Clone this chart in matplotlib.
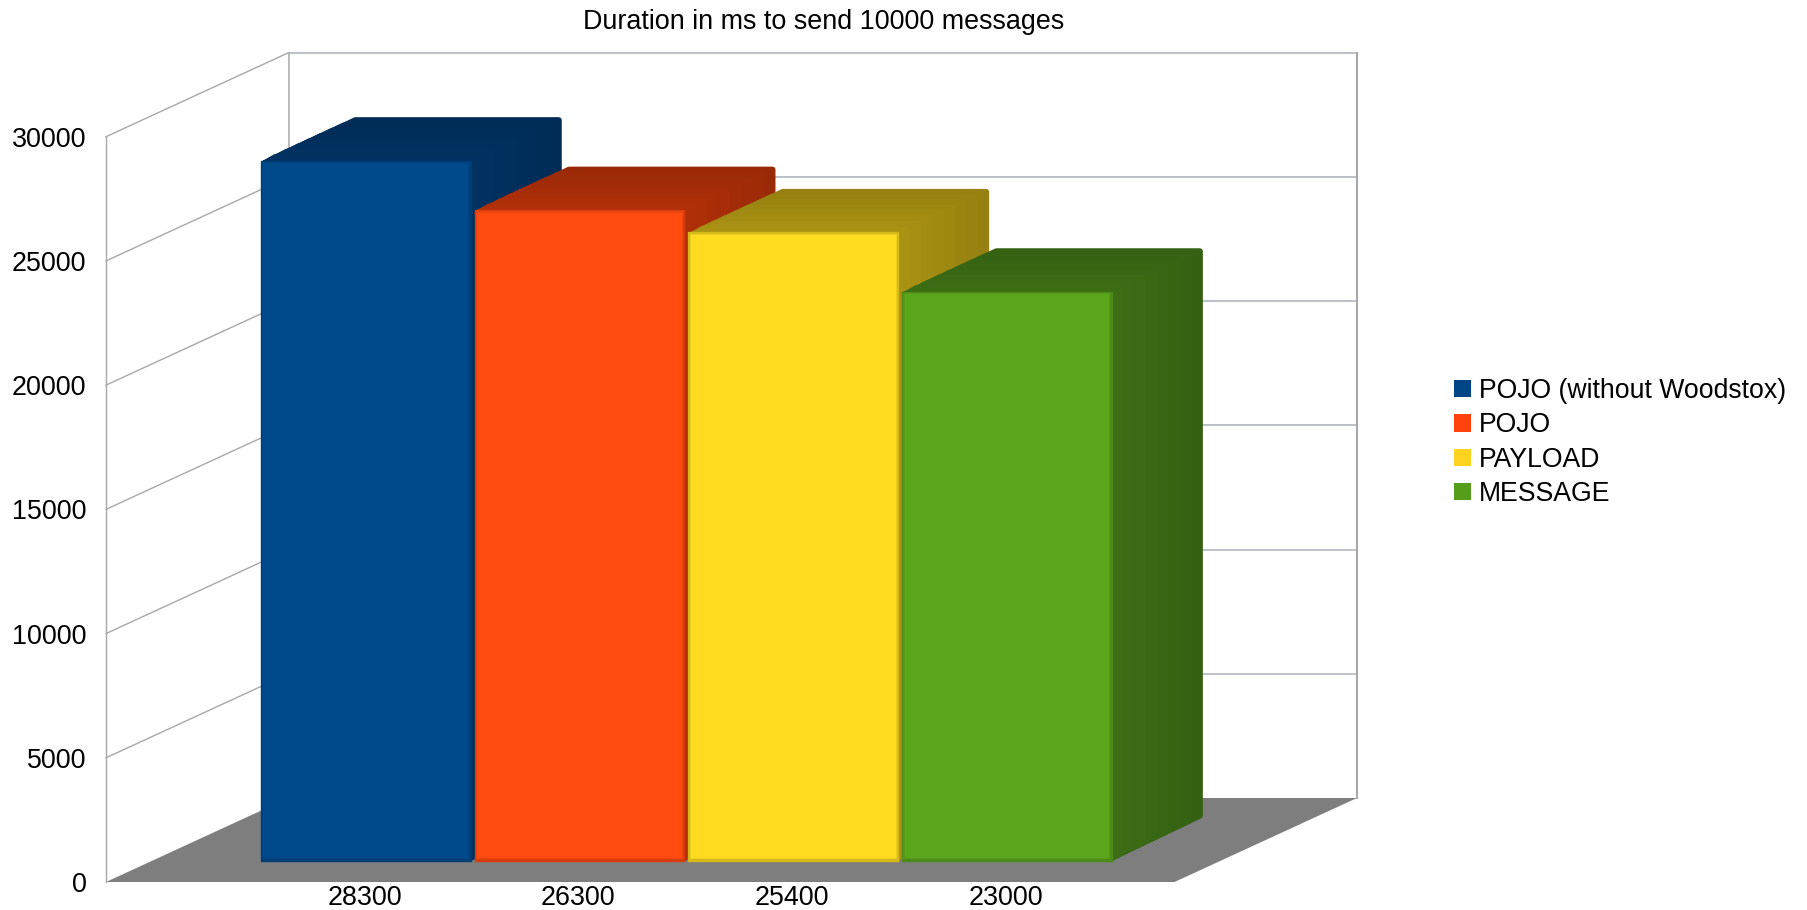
#Goal: Duration to send 10000 messages as LibreOffice style "3D" bars
import matplotlib
matplotlib.use('Agg')
import matplotlib.pyplot as plt
from matplotlib.patches import Polygon, Patch
import numpy as np

plt.rcParams['font.family'] = ['Liberation Sans', 'DejaVu Sans']
plt.rcParams.update({'font.size': 19.4})

#data
series = ['POJO (without Woodstox)', 'POJO', 'PAYLOAD', 'MESSAGE']
durations = [28300, 26300, 25400, 23000]
value_ticks = [0, 5000, 10000, 15000, 20000, 25000, 30000]

#colors
front_colors = ['#004a8c', '#ff4a10', '#ffdc20', '#5ca61c']
side_colors = ['#002f5c', '#a62d08', '#a08a12', '#396814']
legend_colors = ['#004586', '#ff420e', '#ffd320', '#579d1c']
wall_color = '#a8a8a8'
grid_color = '#a9b0b8'
floor_color = '#7e7e7e'

W, H = 1807, 910
x0, x1 = 106, 1174.5 #pixel box of the front plane
y0, y1 = 882, 136.7

#oblique depth: one unit of depth moves this far in data units
ymax = 30000
xmax = 5
depth_x = 182.5 / ((x1 - x0) / xmax)
depth_y = 84 / ((y0 - y1) / ymax)
px_x = xmax / (x1 - x0)
px_y = ymax / (y0 - y1)
bar_start = 0.255
bar_depth = 0.5
front_scale = 0.9955
pt_per_px = 72 / 100
corner = 3 #px


def shift(x, y, d):
    return (x + d * depth_x, y + d * depth_y)


def move(p, dx, dy):
    return (p[0] + dx * px_x, p[1] + dy * px_y)


fig = plt.figure(figsize=(W / 100, H / 100), dpi=100)
ax = fig.add_axes([x0 / W, 1 - y0 / H, (x1 - x0) / W, (y0 - y1) / H])

#walls and gridlines
for v in value_ticks[1:]:
    ax.plot([0, depth_x], [v, v + depth_y], color=wall_color, lw=1.0, clip_on=False, zorder=1)
    ax.plot([depth_x, xmax + depth_x], [v + depth_y, v + depth_y], color=grid_color, lw=1.1, clip_on=False, zorder=1)
ax.plot([0, 0], [0, ymax], color=wall_color, lw=1.0, clip_on=False, zorder=1)
ax.plot([depth_x, depth_x], [depth_y, ymax + depth_y], color=wall_color, lw=1.1, clip_on=False, zorder=1)
ax.plot([xmax + depth_x, xmax + depth_x], [depth_y, ymax + depth_y], color=wall_color, lw=1.5, clip_on=False, zorder=1)

#floor
ax.add_patch(Polygon([(0, 0), (xmax, 0), shift(xmax, 0, 1), shift(0, 0, 1)],
                     facecolor=floor_color, edgecolor='none', clip_on=False, zorder=2))

#bars, left to right so each one covers the side of the one before it
for i, val in enumerate(durations):
    left = 0.5 + i + 0.008
    right = 1.5 + i - 0.012
    top = val * front_scale
    z = 3 + i
    fl = shift(left, 0, bar_start)
    fr = shift(right, 0, bar_start)
    tl = shift(left, top, bar_start)
    tr = shift(right, top, bar_start)

    #side and top get brighter towards the front face
    side = np.array(matplotlib.colors.to_rgb(side_colors[i]))
    steps = 8
    for k in range(steps):
        frac = 1 - k / steps
        d = bar_start + bar_depth * frac
        shade = 1.07 - 0.14 * frac
        col = np.clip(side * shade, 0, 1)
        pts = [move(tl, corner, -corner), move(shift(left, top, d), corner, -corner + 1.5),
               move(shift(right, top, d), -corner, -corner + 1.5), move(shift(right, 0, d), -corner, corner),
               move(fr, 0, corner)]
        ax.add_patch(Polygon(pts, facecolor=col, edgecolor=col, lw=2 * corner * pt_per_px,
                             joinstyle='round', clip_on=False, zorder=z))

    #front with a soft darker rim
    base = np.array(matplotlib.colors.to_rgb(front_colors[i]))
    for inset, shade in [(0, 0.84), (1.2, 0.93), (2.4, 1.0)]:
        ix = inset * px_x
        iy = inset * px_y
        pts = [(fl[0] + ix, fl[1] + iy), (fr[0] - ix, fr[1] + iy),
               (tr[0] - ix, tr[1] - iy), (tl[0] + ix, tl[1] - iy)]
        lw = 1 if inset == 0 else 0
        col = base * shade
        ax.add_patch(Polygon(pts, facecolor=col, edgecolor=col, lw=lw, joinstyle='round',
                             clip_on=False, zorder=z + 0.5))

#axes
ax.set_xlim(0, xmax)
ax.set_ylim(0, ymax)
ax.set_yticks(value_ticks)
ax.set_yticklabels([str(v) for v in value_ticks])
ax.set_xticks([i + 1.21 for i in range(len(durations))])
ax.set_xticklabels([str(v) for v in durations])
ax.tick_params(axis='y', length=0, pad=14)
ax.tick_params(axis='x', length=0, pad=2)
for s in ax.spines.values():
    s.set_visible(False)
ax.patch.set_visible(False)

fig.suptitle('Duration in ms to send 10000 messages', x=823.6 / W, y=1 - 22 / H,
             va='center', ha='center', fontsize=19.4)

handles = [Patch(facecolor=c, edgecolor='none') for c in legend_colors]
fig.legend(handles, series, loc='center left', bbox_to_anchor=(1454 / W, 1 - 442.5 / H),
           frameon=False, fontsize=19.2, handlelength=0.63, handleheight=0.63,
           handletextpad=0.31, labelspacing=0.31, borderpad=0, borderaxespad=0)

fig.savefig('out.png', dpi=100)
